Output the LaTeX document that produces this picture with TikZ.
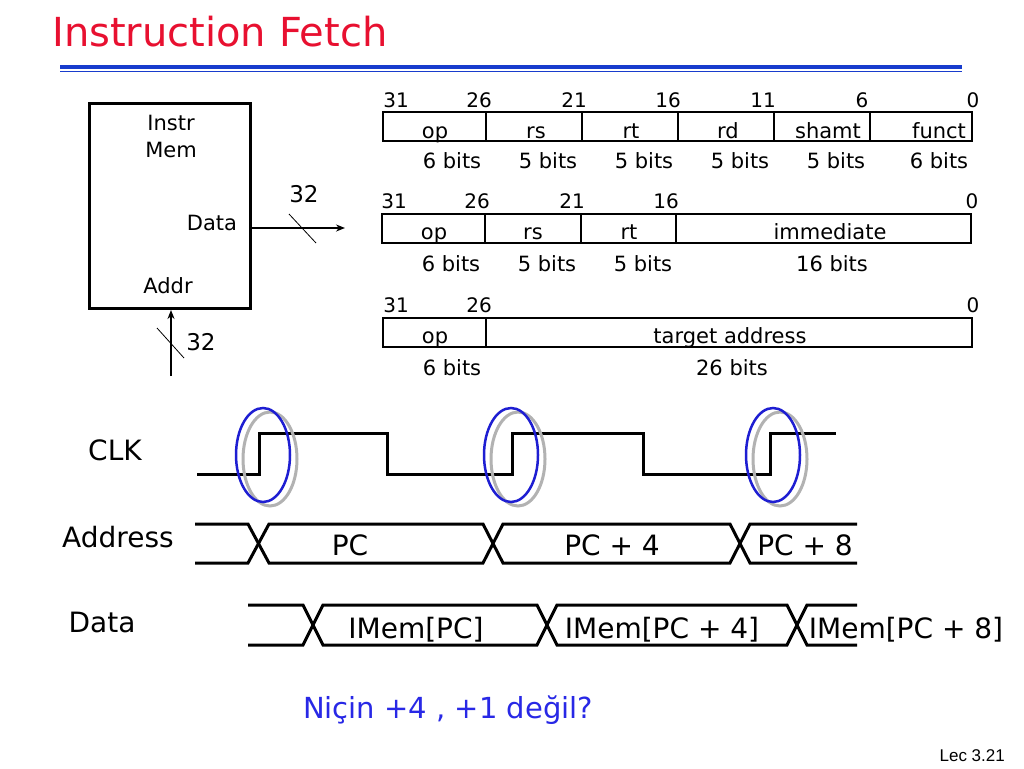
\documentclass[tikz,border=0pt]{standalone}
\usepackage{fontspec}
\setmainfont{DejaVu Sans}
\newfontfamily\arialfont{Liberation Sans}
\usetikzlibrary{arrows.meta,positioning}
\definecolor{titlered}{RGB}{232,16,48}
\definecolor{ruleblue}{RGB}{24,60,205}
\definecolor{askblue}{RGB}{40,40,230}
\definecolor{ringblue}{RGB}{30,30,210}
\newcommand{\fs}[1]{\fontsize{#1}{#1}\selectfont}

\begin{document}
\begin{tikzpicture}[x=1pt,y=-1pt,
  lbl/.style={inner sep=0pt,anchor=base},
  num/.style={lbl,font=\fs{20}},
  fld/.style={lbl,font=\fs{21}},
  bits/.style={lbl,font=\fs{21}},
  memlbl/.style={lbl,font=\fs{21}},
  sig/.style={lbl,font=\fs{28}},
  fmt/.style={line width=2.5pt},
  wave/.style={line width=3pt,line join=miter},
  ring/.style={draw=ringblue,line width=2.5pt},
  ghost/.style={draw=gray!60,line width=3pt},
  arr/.style={-{Stealth[length=9pt,width=7pt]},line width=2pt},
  busmark/.style={line width=0.8pt}
]
\useasboundingbox[fill=white] (0,0) rectangle (1024,768);

% Title
\node[lbl,font=\fs{40},text=titlered,anchor=base west] (title) at (52,46) {Instruction Fetch};
\draw[ruleblue,line width=4pt] (60,67) -- (962,67);
\draw[ruleblue,line width=1.2pt] (60,71.5) -- (962,71.5);

% Instruction memory
\node[draw,line width=3pt,minimum width=161pt,minimum height=205pt,inner sep=0pt] (imem) at (170,206) {};
\node[memlbl] (instr) at (171,130) {Instr};
\node[memlbl] (mem)   at (171,157) {Mem};
\node[memlbl] (dlbl)  at (212,230) {Data};
\node[memlbl] (albl)  at (168,293) {Addr};
\coordinate (dout) at (345,228);
\coordinate (ain)  at (171,376);
\draw[arr] (imem.east |- dout) -- (dout);
\draw[arr] (ain) -- (ain |- imem.south);
\draw[busmark] (289,214) -- (316,243);
\draw[busmark] (157,328) -- (184,358);
\node[lbl,font=\fs{23}] (dw) at (304,202) {32};
\node[lbl,font=\fs{23}] (aw) at (201,350) {32};

% R-format
\draw[fmt] (383,112) rectangle (972,141);
\foreach \x in {486,582,678,774,870}
  \draw[fmt] (\x,112) -- (\x,141);
\foreach \x/\t [count=\i] in {396/31,479/26,574/21,668/16,763/11,862/6,973/0}
  \node[num] (rn\i) at (\x,107) {\t};
\foreach \x/\t [count=\i] in {435/op,536/rs,631/rt,728/rd,828/shamt,939/funct}
  \node[fld] (rf\i) at (\x,138) {\t};
\foreach \x/\t [count=\i] in {452/6,548/5,644/5,740/5,836/5,939/6}
  \node[bits] (rb\i) at (\x,168) {\t\ bits};

% I-format
\draw[fmt] (382,214) rectangle (971,243);
\foreach \x in {485,581,676}
  \draw[fmt] (\x,214) -- (\x,243);
\foreach \x/\t [count=\i] in {394/31,477/26,572/21,666/16,972/0}
  \node[num] (in\i) at (\x,208) {\t};
\foreach \x/\t [count=\i] in {434/op,533/rs,629/rt,830/immediate}
  \node[fld] (if\i) at (\x,239) {\t};
\foreach \x/\t [count=\i] in {451/6,547/5,643/5,832/16}
  \node[bits] (ib\i) at (\x,271) {\t\ bits};

% J-format
\draw[fmt] (383,318) rectangle (972,347);
\draw[fmt] (486,318) -- (486,347);
\foreach \x/\t [count=\i] in {396/31,479/26,973/0}
  \node[num] (jn\i) at (\x,312) {\t};
\foreach \x/\t [count=\i] in {435/op,730/target address}
  \node[fld] (jf\i) at (\x,343) {\t};
\foreach \x/\t [count=\i] in {452/6,732/26}
  \node[bits] (jb\i) at (\x,375) {\t\ bits};

% Timing
\node[sig] (clk)  at (115,460) {CLK};
\node[sig] (addr) at (118,547) {Address};
\node[sig] (data) at (102,632) {Data};

\draw[wave] (197,474) -- (259,474) -- (259,433) -- (387,433) -- (387,474) -- (512,474)
  -- (512,433) -- (643,433) -- (643,474) -- (770,474) -- (770,433) -- (836,433);
\foreach \x in {263,511,773} {
  \draw[ghost] (\x+7,459) ellipse (27pt and 47pt);
  \draw[ring] (\x,455) ellipse (27pt and 47pt);
}

\draw[wave] (195,524) -- (248,524) -- (269,563) -- (483,563) -- (503,524) -- (730,524) -- (750,563) -- (857,563);
\draw[wave] (195,563) -- (248,563) -- (269,524) -- (483,524) -- (503,563) -- (730,563) -- (750,524) -- (857,524);
\node[sig] (pc0) at (350,555) {PC};
\node[sig] (pc4) at (612,555) {PC + 4};
\node[sig] (pc8) at (805,555) {PC + 8};

\draw[wave] (248,605) -- (303,605) -- (323,645) -- (537,645) -- (557,605) -- (787,605) -- (807,645) -- (857,645);
\draw[wave] (248,645) -- (303,645) -- (323,605) -- (537,605) -- (557,645) -- (787,645) -- (807,605) -- (857,605);
\node[sig] (im0) at (416,638) {IMem[PC]};
\node[sig] (im4) at (662,638) {IMem[PC + 4]};
\node[sig] (im8) at (906,638) {IMem[PC + 8]};

% Footer
\node[lbl,font=\fs{29},text=askblue,anchor=base west] (why) at (303,718) {Niçin +4 , +1 değil?};
\node[lbl,font=\arialfont\fs{17},anchor=base east] (lec) at (1005,761) {Lec 3.21};
\end{tikzpicture}
\end{document}
